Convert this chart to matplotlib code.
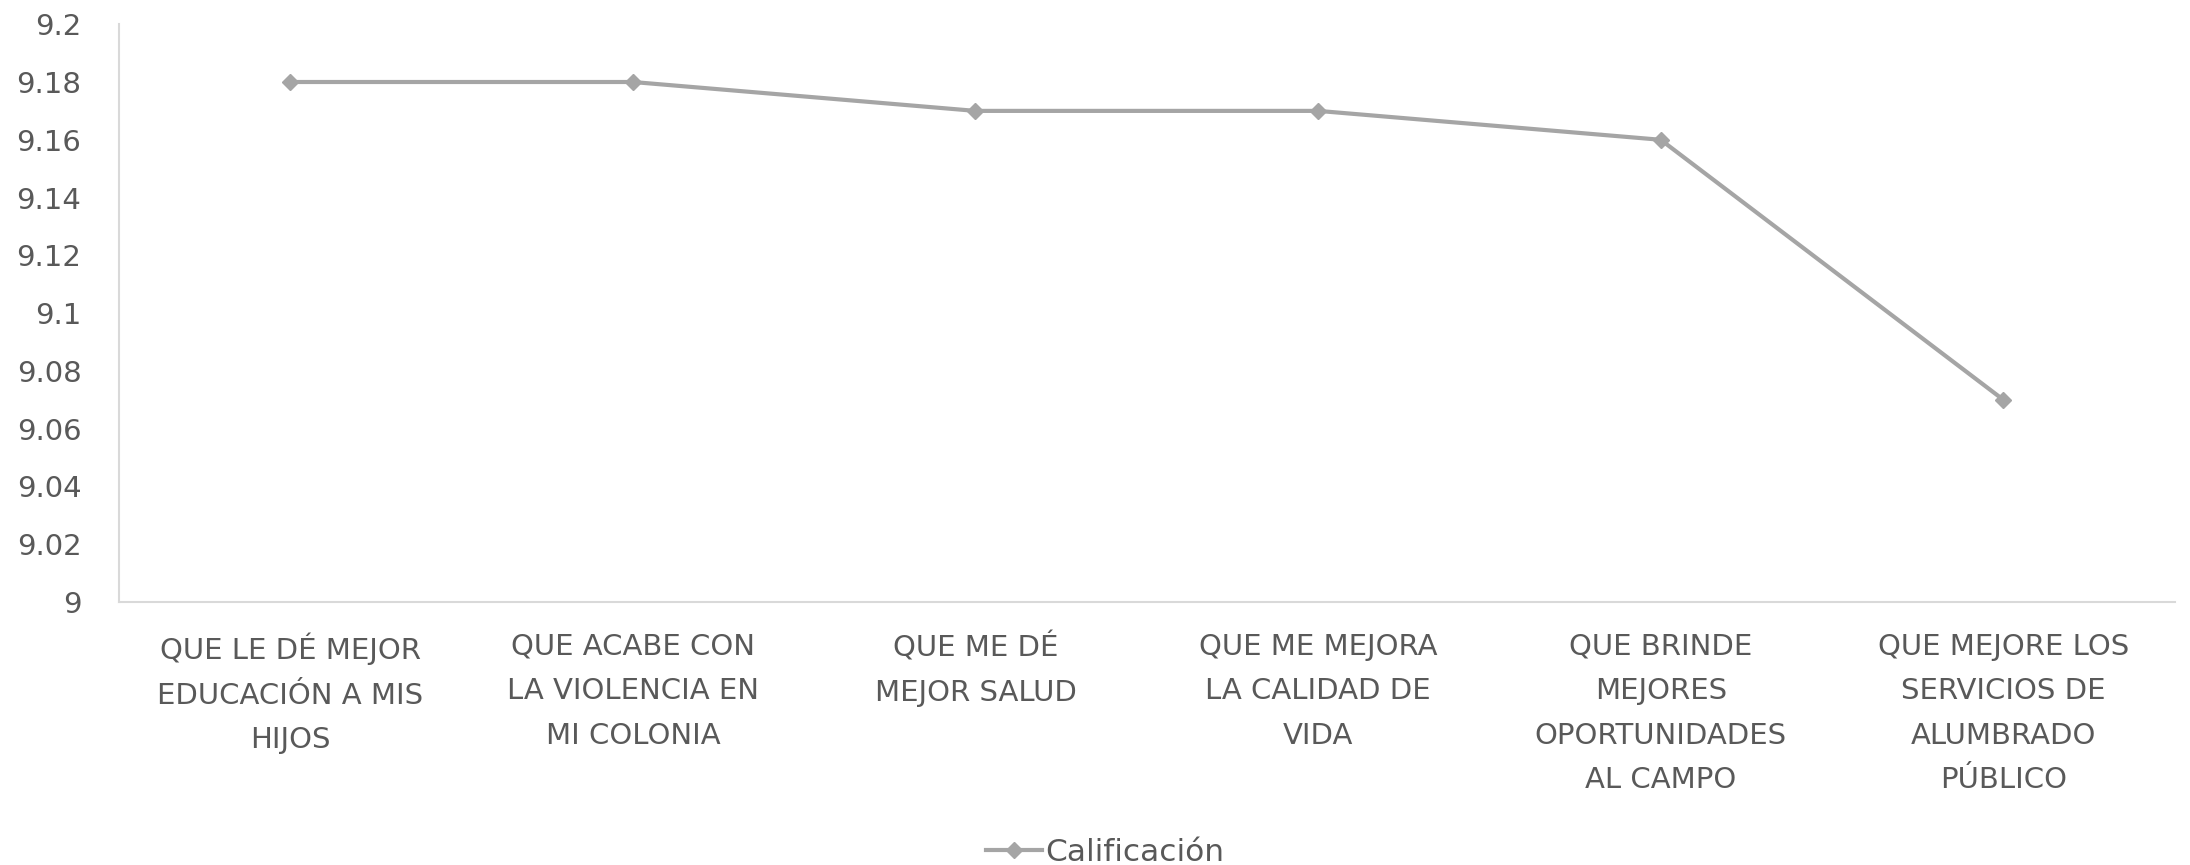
import matplotlib
matplotlib.use("Agg")
import matplotlib.pyplot as plt

categories = [
    "QUE LE DÉ MEJOR\nEDUCACIÓN A MIS\nHIJOS",
    "QUE ACABE CON\nLA VIOLENCIA EN\nMI COLONIA",
    "QUE ME DÉ\nMEJOR SALUD",
    "QUE ME MEJORA\nLA CALIDAD DE\nVIDA",
    "QUE BRINDE\nMEJORES\nOPORTUNIDADES\nAL CAMPO",
    "QUE MEJORE LOS\nSERVICIOS DE\nALUMBRADO\nPÚBLICO",
]
calificacion = [9.18, 9.18, 9.17, 9.17, 9.16, 9.07]
yticks = [9, 9.02, 9.04, 9.06, 9.08, 9.1, 9.12, 9.14, 9.16, 9.18, 9.2]
ytick_labels = ["9", "9.02", "9.04", "9.06", "9.08", "9.1", "9.12", "9.14", "9.16", "9.18", "9.2"]

plt.rcParams['font.family'] = ['DejaVu Sans']
text_color = "#595959"
line_color = "#A5A5A5"

fig = plt.figure(figsize=(21.9, 8.65), dpi=100)
ax = fig.add_axes([0.0543, 0.304, 0.9387, 0.668])

x = list(range(len(categories)))
ax.plot(x, calificacion, color=line_color, linewidth=3.0, marker="D",
        markersize=8, label="Calificación")

ax.set_xlim(-0.5, len(categories) - 0.5)
ax.set_ylim(9, 9.2)
ax.set_yticks(yticks)
ax.set_yticklabels(ytick_labels, fontsize=21, color=text_color)
ax.set_xticks(x)
ax.set_xticklabels(categories, fontsize=21, color=text_color, linespacing=1.75)
ax.tick_params(axis="y", length=0, pad=27)
ax.tick_params(axis="x", length=0, pad=22)

for side in ["top", "right"]:
    ax.spines[side].set_visible(False)
for side in ["left", "bottom"]:
    ax.spines[side].set_color("#D9D9D9")
    ax.spines[side].set_linewidth(1.5)

leg = fig.legend(loc="center", bbox_to_anchor=(0.5047, 0.015), frameon=False,
                 fontsize=22.5, handlelength=1.8, handletextpad=0.1)
for t in leg.get_texts():
    t.set_color(text_color)

fig.savefig("out.png", dpi=100)
